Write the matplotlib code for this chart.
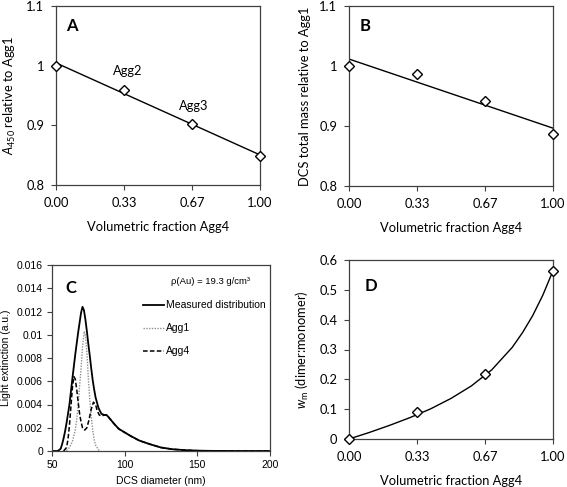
import numpy as np
import matplotlib
matplotlib.use('Agg')
import matplotlib.pyplot as plt
from matplotlib.ticker import FuncFormatter

plt.rcParams['mathtext.fontset'] = 'custom'
plt.rcParams['mathtext.rm'] = 'Lato'
plt.rcParams['mathtext.it'] = 'Lato:italic'

# panel A / B / D data
frac = [0.0, 0.333, 0.667, 1.0]
frac_ticks = [0.0, 1/3, 2/3, 1.0]
frac_labels = ['0.00', '0.33', '0.67', '1.00']
a450 = [1.0, 0.960, 0.902, 0.848]
dcs_mass = [1.0, 0.987, 0.942, 0.887]
wm = [0.0, 0.090, 0.219, 0.564]
# model curve in D
wm_fit_x = [0.0, 0.1, 0.2, 0.3, 0.4, 0.5, 0.6, 0.7, 0.8, 0.85, 0.9, 0.95, 1.0]
wm_fit_y = [0.0, 0.022, 0.046, 0.072, 0.101, 0.136, 0.178, 0.232, 0.307, 0.356, 0.413, 0.482, 0.564]

# panel C data (DCS diameter in nm, light extinction)
meas_x = [50, 54, 56, 57, 58, 59, 60, 62, 64, 66, 68, 70, 71, 72, 73, 74, 75, 76, 77, 78,
          79, 80, 82, 84, 86, 87.5, 89, 91, 93, 96, 100, 104, 110, 117, 125, 133, 142,
          150, 160, 175, 200]
meas_y = [0, 0, 0.0002, 0.0006, 0.0011, 0.0017, 0.0024, 0.0040, 0.0062, 0.0083, 0.0102,
          0.0119, 0.0124, 0.0121, 0.0113, 0.0103, 0.0092, 0.0082, 0.0071, 0.0061, 0.0053,
          0.0046, 0.0037, 0.0032, 0.0031, 0.0031, 0.0029, 0.0026, 0.0023, 0.0019, 0.0016,
          0.0013, 0.0009, 0.0006, 0.0003, 0.00015, 0.00007, 0.00003, 0.00001, 0, 0]
agg1_x = [58, 60, 62, 64, 66, 67, 68, 69, 70, 71, 72.2, 73, 74, 75, 76, 77, 78, 79, 80, 82, 83]
agg1_y = [0, 0.00005, 0.0003, 0.0008, 0.0018, 0.0027, 0.0040, 0.0056, 0.0071, 0.0090, 0.0103,
          0.0099, 0.0085, 0.0063, 0.0044, 0.0030, 0.0018, 0.0010, 0.0005, 0.0001, 0]
agg4_x = [58, 60, 61, 62, 63, 64, 65, 66, 67, 68, 69, 70, 71, 72.5, 74, 75.5, 77, 78.5, 80,
          81, 82.5, 84, 86, 87.5, 89, 91, 93, 96, 100, 104, 110, 117, 125, 133, 142, 150,
          160, 175, 200]
agg4_y = [0, 0.0003, 0.0010, 0.0022, 0.0038, 0.0054, 0.0064, 0.0062, 0.0053, 0.0042, 0.0032,
          0.0025, 0.0020, 0.0018, 0.0020, 0.0027, 0.0036, 0.0042, 0.0040, 0.0035, 0.0031,
          0.0030, 0.0031, 0.0031, 0.0029, 0.0026, 0.0023, 0.0019, 0.0016, 0.0013, 0.0009,
          0.0006, 0.0003, 0.00015, 0.00007, 0.00003, 0.00001, 0, 0]

cal = 'Lato'
ari = 'Liberation Sans'
frame_col = '#404040'
fs = 9.3

fmt = FuncFormatter(lambda v, p: format(round(v, 6), 'g'))

fig = plt.figure(figsize=(5.67, 4.87), dpi=100)
W, H = 567, 487


def add_ax(l, t, r, b):
    return fig.add_axes([l / W, (H - b) / H, (r - l) / W, (b - t) / H])


def style(ax, font, size, pad=3):
    for s in ax.spines.values():
        s.set_color(frame_col)
        s.set_linewidth(0.9)
    ax.tick_params(direction='out', length=3.5, width=0.8, color=frame_col,
                   labelsize=size, pad=pad)
    ax.tick_params(top=False, right=False)
    for lab in ax.get_xticklabels() + ax.get_yticklabels():
        lab.set_family(font)


def frac_axis(ax):
    ax.set_xlim(0, 1)
    ax.set_xticks(frac_ticks)
    ax.set_xticklabels(frac_labels)
    ax.set_xlabel('Volumetric fraction Agg4', family=cal, fontsize=fs, labelpad=9)


mk = dict(marker='D', ms=5, mfc='white', mec='black', mew=1, ls='none', clip_on=False, zorder=5)

# ---- A
axA = add_ax(56, 6, 260, 185)
k = np.polyfit(frac, a450, 1)
axA.plot([0, 1], np.polyval(k, [0, 1]), color='black', lw=1)
axA.plot(frac, a450, **mk)
axA.set_ylim(0.8, 1.1)
axA.set_yticks([0.8, 0.9, 1.0, 1.1])
axA.yaxis.set_major_formatter(fmt)
frac_axis(axA)
axA.set_ylabel(r'$\mathit{A}_{\mathregular{450}}$ relative to Agg1', family=cal, fontsize=fs, labelpad=6)
axA.text(0.353, 0.991, 'Agg2', family=cal, fontsize=fs, ha='center', va='center')
axA.text(0.674, 0.932, 'Agg3', family=cal, fontsize=fs, ha='center', va='center')
axA.text(0.078, 0.888, 'A', transform=axA.transAxes, family=cal, fontsize=12,
         fontweight='bold', ha='center', va='center')
style(axA, cal, fs, pad=5)

# ---- B
axB = add_ax(349, 6, 553, 186)
k = np.polyfit(frac, dcs_mass, 1)
axB.plot([0, 1], np.polyval(k, [0, 1]), color='black', lw=1)
axB.plot(frac, dcs_mass, **mk)
axB.set_ylim(0.8, 1.1)
axB.set_yticks([0.8, 0.9, 1.0, 1.1])
axB.yaxis.set_major_formatter(fmt)
frac_axis(axB)
axB.set_ylabel('DCS total mass relative to Agg1', family=cal, fontsize=fs, labelpad=6)
axB.text(0.077, 0.888, 'B', transform=axB.transAxes, family=cal, fontsize=12,
         fontweight='bold', ha='center', va='center')
style(axB, cal, fs, pad=5)

# ---- C
axC = add_ax(52, 265, 270, 451)
axC.plot(meas_x, meas_y, color='black', lw=1.3, label='Measured distribution')
axC.plot(agg1_x, agg1_y, color='#909090', lw=1.0, ls=(0, (1, 1)), label='Agg1')
axC.plot(agg4_x, agg4_y, color='black', lw=1.1, ls=(0, (3, 1.5)), label='Agg4')
axC.set_xlim(50, 200)
axC.set_ylim(0, 0.016)
axC.set_xticks([50, 100, 150, 200])
axC.set_yticks(np.arange(0, 0.0161, 0.002))
axC.yaxis.set_major_formatter(fmt)
axC.set_xlabel('DCS diameter (nm)', family=ari, fontsize=7.5, labelpad=4)
axC.set_ylabel('Light extinction (a.u.)', family=ari, fontsize=7.5, labelpad=4)
axC.text(0.729, 0.909, 'ρ(Au) = 19.3 g/cm³', transform=axC.transAxes, family=ari,
         fontsize=6.8, ha='center', va='center')
axC.legend(loc='upper left', bbox_to_anchor=(0.417, 0.81), frameon=False,
           prop={'family': ari, 'size': 7.5}, handlelength=2.0, handletextpad=0.2,
           labelspacing=1.25, borderaxespad=0, borderpad=0)
axC.text(0.087, 0.879, 'C', transform=axC.transAxes, family=cal, fontsize=12,
         fontweight='bold', ha='center', va='center')
style(axC, ari, 7.5)

# ---- D
axD = add_ax(349, 260, 553, 439)
axD.plot(wm_fit_x, wm_fit_y, color='black', lw=1, clip_on=False)
axD.plot(frac, wm, **mk)
axD.set_ylim(0, 0.6)
axD.set_yticks(np.arange(0, 0.61, 0.1))
axD.yaxis.set_major_formatter(fmt)
frac_axis(axD)
axD.set_ylabel(r'$\mathit{w}_{\mathregular{m}}$ (dimer:monomer)', family=cal, fontsize=fs, labelpad=6)
axD.text(0.108, 0.855, 'D', transform=axD.transAxes, family=cal, fontsize=12,
         fontweight='bold', ha='center', va='center')
style(axD, cal, fs, pad=5)

fig.savefig('out.png', dpi=100)
